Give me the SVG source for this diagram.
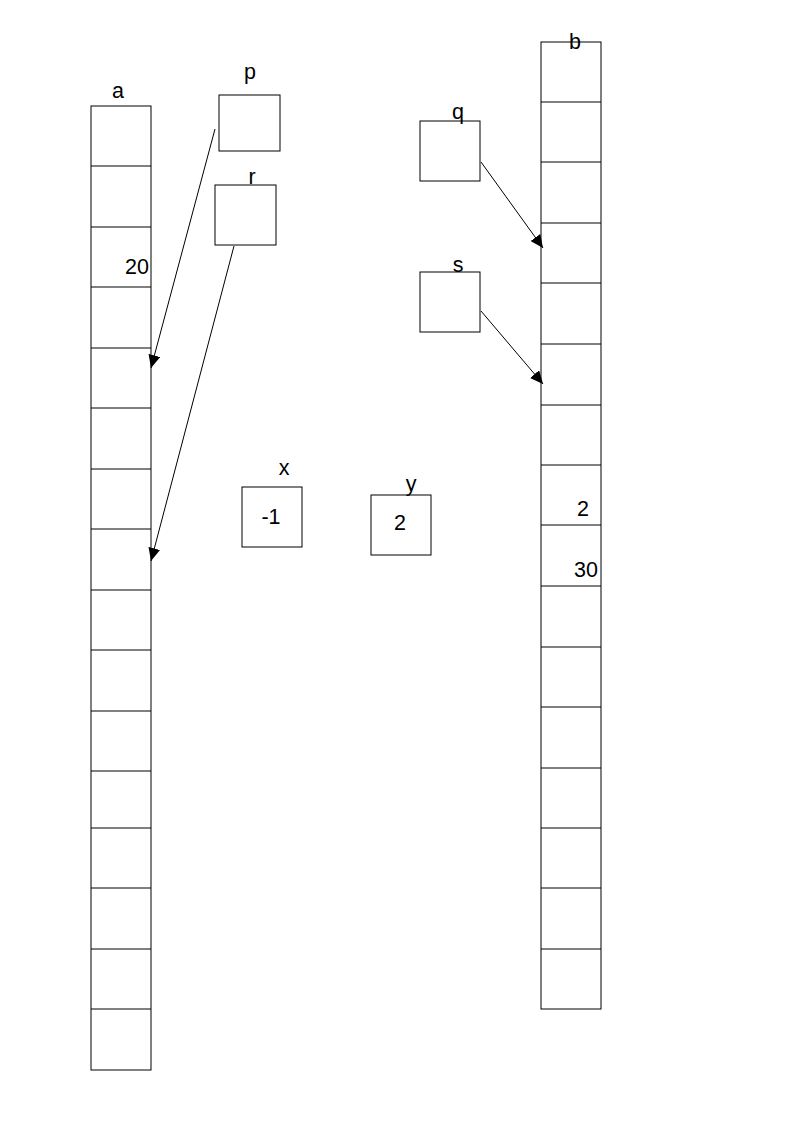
<svg xmlns="http://www.w3.org/2000/svg" width="794" height="1123" viewBox="0 0 794 1123">
<style>
.c{fill:#fff;stroke:#000;stroke-width:1}
.l{fill:none;stroke:#000;stroke-width:1}
text{font-family:"Liberation Sans",Arial,sans-serif;font-size:21.5px;fill:#000;text-anchor:middle}
</style>
<defs>
<marker id="ah" markerUnits="userSpaceOnUse" markerWidth="14" markerHeight="12" refX="13" refY="6" orient="auto">
<path d="M0,0 L13,6 L0,12 Z" fill="#000"/>
</marker>
</defs>
<rect width="794" height="1123" fill="#fff"/>
<g id="array-a">
<rect class="c" x="91" y="106" width="60" height="964"/>
<path class="l" d="M91,166H151M91,227H151M91,287H151M91,348H151M91,408H151M91,469H151M91,529H151M91,590H151M91,650H151M91,711H151M91,771H151M91,828H151M91,888H151M91,949H151M91,1009H151"/>
<text x="118" y="98">a</text>
<text x="137" y="274">20</text>
</g>
<g id="array-b">
<rect class="c" x="541" y="42" width="60" height="967"/>
<path class="l" d="M541,102H601M541,162H601M541,223H601M541,283H601M541,344H601M541,405H601M541,465H601M541,525H601M541,586H601M541,647H601M541,707H601M541,768H601M541,828H601M541,888H601M541,949H601"/>
<text x="575" y="49">b</text>
<text x="583" y="516">2</text>
<text x="586" y="577">30</text>
</g>
<g id="p">
<rect class="c" x="219" y="95" width="61" height="56"/>
<text x="250" y="79">p</text>
</g>
<g id="r">
<rect class="c" x="215" y="185" width="61" height="60"/>
<text x="252" y="184">r</text>
</g>
<g id="q">
<rect class="c" x="420" y="121" width="60" height="60"/>
<text x="458" y="119">q</text>
</g>
<g id="s">
<rect class="c" x="420" y="272" width="60" height="60"/>
<text x="458" y="272">s</text>
</g>
<g id="x">
<rect class="c" x="242" y="487" width="60" height="60"/>
<text x="284" y="475">x</text>
<text x="271" y="524">-1</text>
</g>
<g id="y">
<rect class="c" x="371" y="495" width="60" height="60"/>
<text x="411" y="491">y</text>
<text x="400" y="530">2</text>
</g>
<g id="connectors">
<line class="l" x1="215" y1="129" x2="151" y2="368" marker-end="url(#ah)"/>
<line class="l" x1="234" y1="246" x2="151" y2="561" marker-end="url(#ah)"/>
<line class="l" x1="481" y1="162" x2="543" y2="248" marker-end="url(#ah)"/>
<line class="l" x1="481" y1="311" x2="543" y2="384" marker-end="url(#ah)"/>
</g>
</svg>
